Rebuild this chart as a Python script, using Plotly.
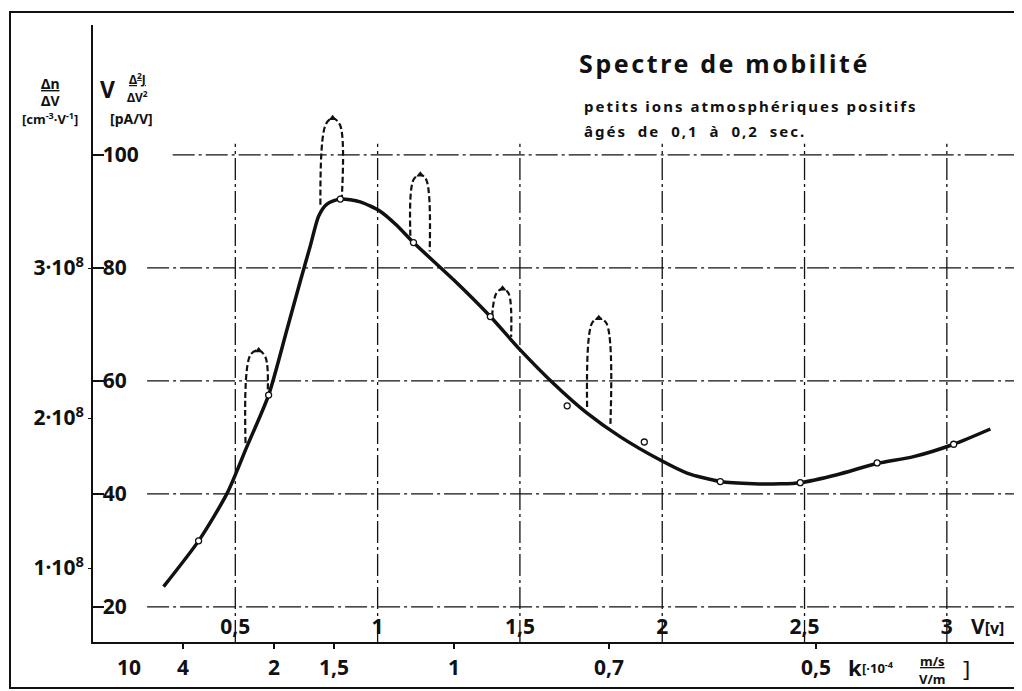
import plotly.graph_objects as go

# ---------------- data ----------------
# main curve: V [V]  vs  V·Δ²J/ΔV² [pA/V]
curve_v = [0.248, 0.371, 0.471, 0.540, 0.617, 0.682, 0.728, 0.764, 0.793, 0.822,
           0.869, 0.939, 1.010, 1.066, 1.126, 1.267, 1.396, 1.501, 1.617, 1.736, 1.853,
           1.993, 2.087, 2.204, 2.321, 2.415, 2.485, 2.614, 2.755, 2.883, 3.024, 3.153]
curve_y = [23.6, 31.7, 40.1, 48.3, 57.5, 69.2, 77.6, 84.0, 89.2, 91.3,
           92.2, 91.7, 90.0, 87.6, 84.5, 77.9, 71.4, 65.5, 59.6, 54.3, 50.1,
           46.0, 43.7, 42.2, 41.8, 41.8, 42.0, 43.4, 45.4, 46.6, 48.8, 51.5]

# measured points (open circles)
pts_v = [0.371, 0.617, 0.869, 1.126, 1.396, 1.666, 1.937, 2.204, 2.485, 2.755, 3.024]
pts_y = [31.7, 57.5, 92.2, 84.5, 71.4, 55.6, 49.2, 42.2, 42.0, 45.5, 48.8]

# dashed narrow peaks
peak1_v = [0.536, 0.553, 0.582, 0.606, 0.614]
peak1_y = [49.0, 64.6, 65.4, 64.2, 58.1]
peak2_v = [0.799, 0.817, 0.842, 0.868, 0.874]
peak2_y = [91.2, 105.3, 106.5, 105.3, 92.3]
peak3_v = [1.115, 1.126, 1.150, 1.171, 1.183]
peak3_y = [85.7, 95.6, 96.5, 95.6, 82.9]
peak4_v = [1.402, 1.417, 1.439, 1.460, 1.469]
peak4_y = [71.4, 75.5, 76.3, 75.5, 67.8]
peak5_v = [1.736, 1.753, 1.777, 1.804, 1.818]
peak5_y = [55.4, 70.2, 71.1, 70.2, 52.4]
peaks = [(peak1_v, peak1_y), (peak2_v, peak2_y), (peak3_v, peak3_y),
         (peak4_v, peak4_y), (peak5_v, peak5_y)]

# axes
v_ticks = [0.5, 1, 1.5, 2, 2.5, 3]
v_labels = ["0,5", "1", "1,5", "2", "2,5", "3"]
y_ticks = [20, 40, 60, 80, 100]
y_labels = ["20", "40", "60", "80", "100"]
dn_ticks = [1, 2, 3]                       # ×10^8
dn_labels = ["1·10<sup>8</sup>", "2·10<sup>8</sup>", "3·10<sup>8</sup>"]
k_ticks = [10, 4, 2, 1.5, 1, 0.7, 0.5]
k_labels = ["10", "4", "2", "1,5", "1", "0,7", "0,5"]
KV = 1.27                                   # k = KV / V

# ---------------- layout geometry ----------------
OFF = 8                                     # page body margin
W, H = 1022 - OFF, 691 - OFF
L, T = 93 - OFF, 25 - OFF
PW, PH = 925, 617
R, B = W - L - PW, H - T - PH
X_RANGE = [0, 3.25]
Y_RANGE = [13.8, 123]
DN_RANGE = [0.507, 4.62]


def px(x):
    return (x - OFF - L) / PW


def py(y):
    return (H - B - (y - OFF)) / PH


FONT = "Noto Sans"
BLACK = "#111"

fig = go.Figure()

# dashed peaks
for pv, pyy in peaks:
    fig.add_trace(go.Scatter(x=pv, y=pyy, mode="lines",
                             line=dict(color=BLACK, width=2.2, dash="6px,3px",
                                       shape="spline", smoothing=1.0),
                             hoverinfo="skip", showlegend=False))
    fig.add_trace(go.Scatter(x=[pv[2]], y=[pyy[2]], mode="markers",
                             marker=dict(symbol="triangle-up", size=7, color=BLACK),
                             hoverinfo="skip", showlegend=False))

# main curve
fig.add_trace(go.Scatter(x=curve_v, y=curve_y, mode="lines",
                         line=dict(color=BLACK, width=3.5, shape="spline", smoothing=0.7),
                         showlegend=False))
# measured points
fig.add_trace(go.Scatter(x=pts_v, y=pts_y, mode="markers",
                         marker=dict(symbol="circle", size=6, color="white",
                                     line=dict(color=BLACK, width=1.3)),
                         showlegend=False))

# invisible helpers so the secondary scales (k and Δn/ΔV) are drawn
fig.add_trace(go.Scatter(x=[KV / k for k in k_ticks], y=[Y_RANGE[0]] * len(k_ticks),
                         xaxis="x2", yaxis="y", mode="markers",
                         marker=dict(opacity=0), hoverinfo="skip", showlegend=False))
fig.add_trace(go.Scatter(x=[X_RANGE[0]] * len(dn_ticks), y=dn_ticks,
                         xaxis="x", yaxis="y2", mode="markers",
                         marker=dict(opacity=0), hoverinfo="skip", showlegend=False))

# grid lines (drawn as shapes, dash-dot like the drawing)
GRID_DASH = "22px,4px,3px,4px"
shapes = []
for yv in y_ticks:
    x0 = 0.28 if yv == 100 else 0.19
    shapes.append(dict(type="line", xref="x", yref="y", x0=x0, x1=X_RANGE[1],
                       y0=yv, y1=yv, layer="below",
                       line=dict(color=BLACK, width=1.3, dash=GRID_DASH)))
for vv in v_ticks:
    shapes.append(dict(type="line", xref="x", yref="y", x0=vv, x1=vv,
                       y0=Y_RANGE[0], y1=102, layer="below",
                       line=dict(color=BLACK, width=1.3, dash=GRID_DASH)))
# outer frame of the drawing
shapes.append(dict(type="rect", xref="paper", yref="paper",
                   x0=px(10), x1=px(1019), y0=py(688), y1=py(12),
                   line=dict(color=BLACK, width=2)))

tick_font = dict(family=FONT, size=21, color=BLACK, weight=700)

fig.update_layout(
    width=W, height=H,
    margin=dict(l=L, r=R, t=T, b=B, autoexpand=False),
    paper_bgcolor="white", plot_bgcolor="white",
    shapes=shapes,
    showlegend=False,
    xaxis=dict(range=X_RANGE, tickvals=v_ticks, ticktext=v_labels,
               ticklabelposition="inside", ticklabelstandoff=5, ticks="",
               showgrid=False, zeroline=False,
               showline=True, linecolor=BLACK, linewidth=2, tickfont=tick_font,
               anchor="y", automargin=False),
    xaxis2=dict(range=X_RANGE, overlaying="x", side="bottom", anchor="y",
                tickvals=[KV / k for k in k_ticks], showticklabels=False,
                ticks="outside", ticklen=6, tickcolor=BLACK, tickwidth=1.5,
                showgrid=False, zeroline=False, showline=False,
                automargin=False),
    yaxis=dict(range=Y_RANGE, tickvals=y_ticks, ticktext=y_labels,
               ticklabelposition="inside", ticks="inside", ticklen=11,
               tickcolor=BLACK, tickwidth=1.5, showgrid=False, zeroline=False,
               showline=True, linecolor=BLACK, linewidth=2, tickfont=tick_font,
               anchor="x", automargin=False),
    yaxis2=dict(range=DN_RANGE, overlaying="y", side="left", anchor="x",
                tickvals=dn_ticks, ticktext=dn_labels, ticks="outside", ticklen=4,
                ticklabelstandoff=0,
                tickcolor=BLACK, showgrid=False, zeroline=False, showline=False,
                tickfont=tick_font, automargin=False),
)

ann = []


def add_text(text, x, y, size, xanchor="left", yanchor="middle", weight=700):
    ann.append(dict(text=text, x=px(x), y=py(y), xref="paper", yref="paper",
                    xanchor=xanchor, yanchor=yanchor, showarrow=False,
                    font=dict(family=FONT, size=size, color=BLACK, weight=weight)))


def spaced(s, sp, wsp=0):
    return "<span style='letter-spacing:%spx;word-spacing:%spx'>%s</span>" % (sp, wsp, s)


# k scale tick labels, placed through the V axis (k = KV / V)
for k, lab in zip(k_ticks, k_labels):
    ann.append(dict(text=lab, x=KV / k, xref="x", y=py(667), yref="paper",
                    xanchor="center", yanchor="middle", showarrow=False,
                    font=tick_font))

# title block
add_text(spaced("Spectre de mobilité", 2.6), 577, 63, 25)
add_text(spaced("petits ions atmosphériques positifs", 2.0), 582, 106, 15)
add_text(spaced("âgés de 0,1 à 0,2 sec.", 2.0, 5), 582, 131, 15)

# left axis headers
add_text("<u>Δn</u>", 50, 84, 14, xanchor="center")
add_text("ΔV", 50, 100, 14, xanchor="center")
add_text("[cm<sup>-3</sup>·V<sup>-1</sup>]", 50, 118, 13, xanchor="center")
add_text("V", 107, 89, 23, xanchor="center")
add_text("<u>Δ<sup>2</sup>J</u>", 137, 79, 12, xanchor="center")
add_text("ΔV<sup>2</sup>", 137, 97, 12, xanchor="center")
add_text("[pA/V]", 131, 118, 14, xanchor="center")

# bottom axis titles
add_text("V<span style='font-size:16px'>[v]</span>", 969, 626, 21)
add_text("k", 846, 667, 22)
add_text("[·10<sup>-4</sup>", 860, 667, 13)
add_text("<u>m/s</u>", 932, 661, 13, xanchor="center")
add_text("V/m", 932, 679, 13, xanchor="center")
add_text("]", 961, 668, 22, weight=400)

fig.update_layout(annotations=ann)

fig.write_html("out.html")
